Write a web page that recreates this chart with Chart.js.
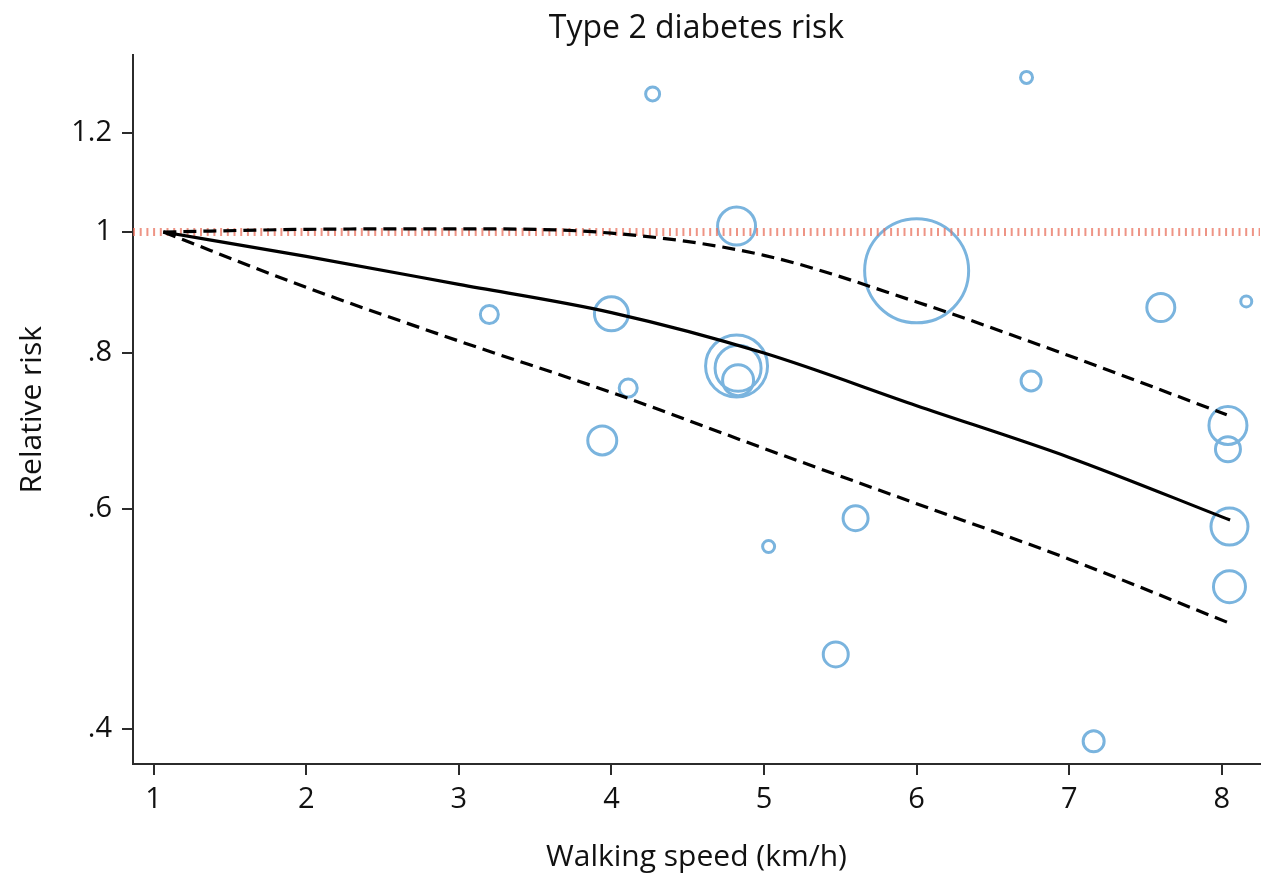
<!DOCTYPE html>
<html>
<head>
<meta charset="utf-8">
<title>Type 2 diabetes risk</title>
<script src="https://cdn.jsdelivr.net/npm/chart.js@4.4.1/dist/chart.umd.min.js"></script>
<style>
	html, body { margin: 0; padding: 0; background: #fff; }
	#wrap { width: 1261px; height: 875px; position: relative; }
</style>
</head>
<body>
<div id="wrap"><canvas id="risk-chart"></canvas></div>
<script>
// axis ranges and ticks
var xMin = 0.865, xMax = 8.25;
var yMin = 0.375, yMax = 1.385;
var xTicks = [1, 2, 3, 4, 5, 6, 7, 8];
var yTicks = [0.4, 0.6, 0.8, 1, 1.2];
var yTickLabels = ['.4', '.6', '.8', '1', '1.2'];

// individual studies (bubbles)
var studySpeed  = [4.27, 6.72, 4.82, 6.00, 3.20, 4.00, 7.60, 8.16, 4.82, 4.83, 4.83, 3.94, 4.11, 6.75, 8.04, 8.04, 8.05, 8.05, 5.60, 5.03, 5.47, 7.16];
var studyRR     = [1.29, 1.33, 1.011, 0.931, 0.859, 0.860, 0.870, 0.880, 0.781, 0.778, 0.761, 0.681, 0.750, 0.760, 0.700, 0.670, 0.581, 0.520, 0.590, 0.560, 0.459, 0.391];
var studyWeight = [7, 6, 19, 52, 9, 17, 14, 5.5, 31, 23, 15.5, 14.5, 9, 10, 19, 12.5, 18.5, 16, 12.5, 6, 12.5, 10.5];

// pooled dose-response curve with 95% CI
var curveSpeed = [1.064, 2, 3, 4, 5, 6, 7, 8.054];
var curveRR    = [1.000, 0.956, 0.908, 0.862, 0.800, 0.726, 0.660, 0.588];
var upperSpeed = [1.064, 2, 3, 4, 5, 6, 7, 8.032];
var upperRR    = [1.000, 1.005, 1.006, 0.998, 0.958, 0.879, 0.796, 0.714];
var lowerSpeed = [1.064, 2, 3, 4, 5, 6, 7, 8.054];
var lowerRR    = [1.000, 0.903, 0.818, 0.744, 0.671, 0.606, 0.547, 0.486];

var refRR = 1;

var toPoints = function(xs, ys) {
	return xs.map(function(x, i) { return { x: x, y: ys[i] }; });
};

var bubbleBlue = 'rgb(122,180,222)';
var axisColor = '#2b2b2b';

Chart.defaults.font.family = '"Open Sans", sans-serif';
Chart.defaults.color = '#111';

var ctx = document.getElementById('risk-chart').getContext('2d');
var riskChart = new Chart(ctx, {
	type: 'bubble',
	data: {
		datasets: [{
			type: 'line',
			label: 'Relative risk',
			data: toPoints(curveSpeed, curveRR),
			borderColor: '#000',
			borderWidth: 3.2,
			pointRadius: 0,
			cubicInterpolationMode: 'monotone',
			order: 0
		}, {
			type: 'line',
			label: 'Upper 95% CI',
			data: toPoints(upperSpeed, upperRR),
			borderColor: '#000',
			borderWidth: 3.2,
			borderDash: [13, 7],
			pointRadius: 0,
			cubicInterpolationMode: 'monotone',
			order: 0
		}, {
			type: 'line',
			label: 'Lower 95% CI',
			data: toPoints(lowerSpeed, lowerRR),
			borderColor: '#000',
			borderWidth: 3.2,
			borderDash: [13, 7],
			pointRadius: 0,
			cubicInterpolationMode: 'monotone',
			order: 0
		}, {
			type: 'line',
			label: 'Reference',
			data: [{ x: xMin, y: refRR }, { x: xMax, y: refRR }],
			borderColor: 'rgba(232,112,92,0.75)',
			borderWidth: 8,
			borderDash: [2, 4.7],
			pointRadius: 0,
			order: 1
		}, {
			label: 'Studies',
			data: studySpeed.map(function(x, i) { return { x: x, y: studyRR[i], r: studyWeight[i] }; }),
			backgroundColor: 'rgba(0,0,0,0)',
			borderColor: bubbleBlue,
			borderWidth: 3,
			order: 2
		}]
	},
	options: {
		responsive: true,
		maintainAspectRatio: false,
		animation: false,
		events: [],
		layout: { autoPadding: false, padding: { top: 0, left: 0, right: 1, bottom: 0 } },
		plugins: {
			legend: { display: false },
			tooltip: { enabled: false },
			title: {
				display: true,
				text: 'Type 2 diabetes risk',
				fullSize: false,
				color: '#111',
				font: { size: 32, weight: 'normal', lineHeight: 1.2 },
				padding: { top: 10, bottom: 7 }
			}
		},
		scales: {
			x: {
				type: 'linear',
				min: xMin,
				max: xMax,
				afterBuildTicks: function(scale) {
					scale.ticks = xTicks.map(function(v) { return { value: v }; });
				},
				afterFit: function(scale) { scale.height = 111; },
				grid: { drawOnChartArea: false, drawTicks: true, tickLength: 11, color: axisColor, lineWidth: 2 },
				border: { display: true, color: axisColor, width: 2 },
				ticks: { padding: 7, maxRotation: 0, font: { size: 29 }, color: '#111' },
				title: {
					display: true,
					text: 'Walking speed (km/h)',
					font: { size: 30 },
					color: '#111',
					padding: { top: 0, bottom: 0 }
				}
			},
			y: {
				type: 'logarithmic',
				min: yMin,
				max: yMax,
				afterBuildTicks: function(scale) {
					scale.ticks = yTicks.map(function(v) { return { value: v }; });
				},
				afterFit: function(scale) { scale.width = 133; },
				grid: { drawOnChartArea: false, drawTicks: true, tickLength: 11, color: axisColor, lineWidth: 2 },
				border: { display: true, color: axisColor, width: 2 },
				ticks: {
					padding: 10,
					font: { size: 29 },
					color: '#111',
					callback: function(value) {
						var i = yTicks.indexOf(value);
						return i >= 0 ? yTickLabels[i] : '';
					}
				},
				title: {
					display: true,
					text: 'Relative risk',
					font: { size: 30 },
					color: '#111',
					padding: { top: 14, bottom: 0 }
				}
			}
		}
	}
});
</script>
</body>
</html>
